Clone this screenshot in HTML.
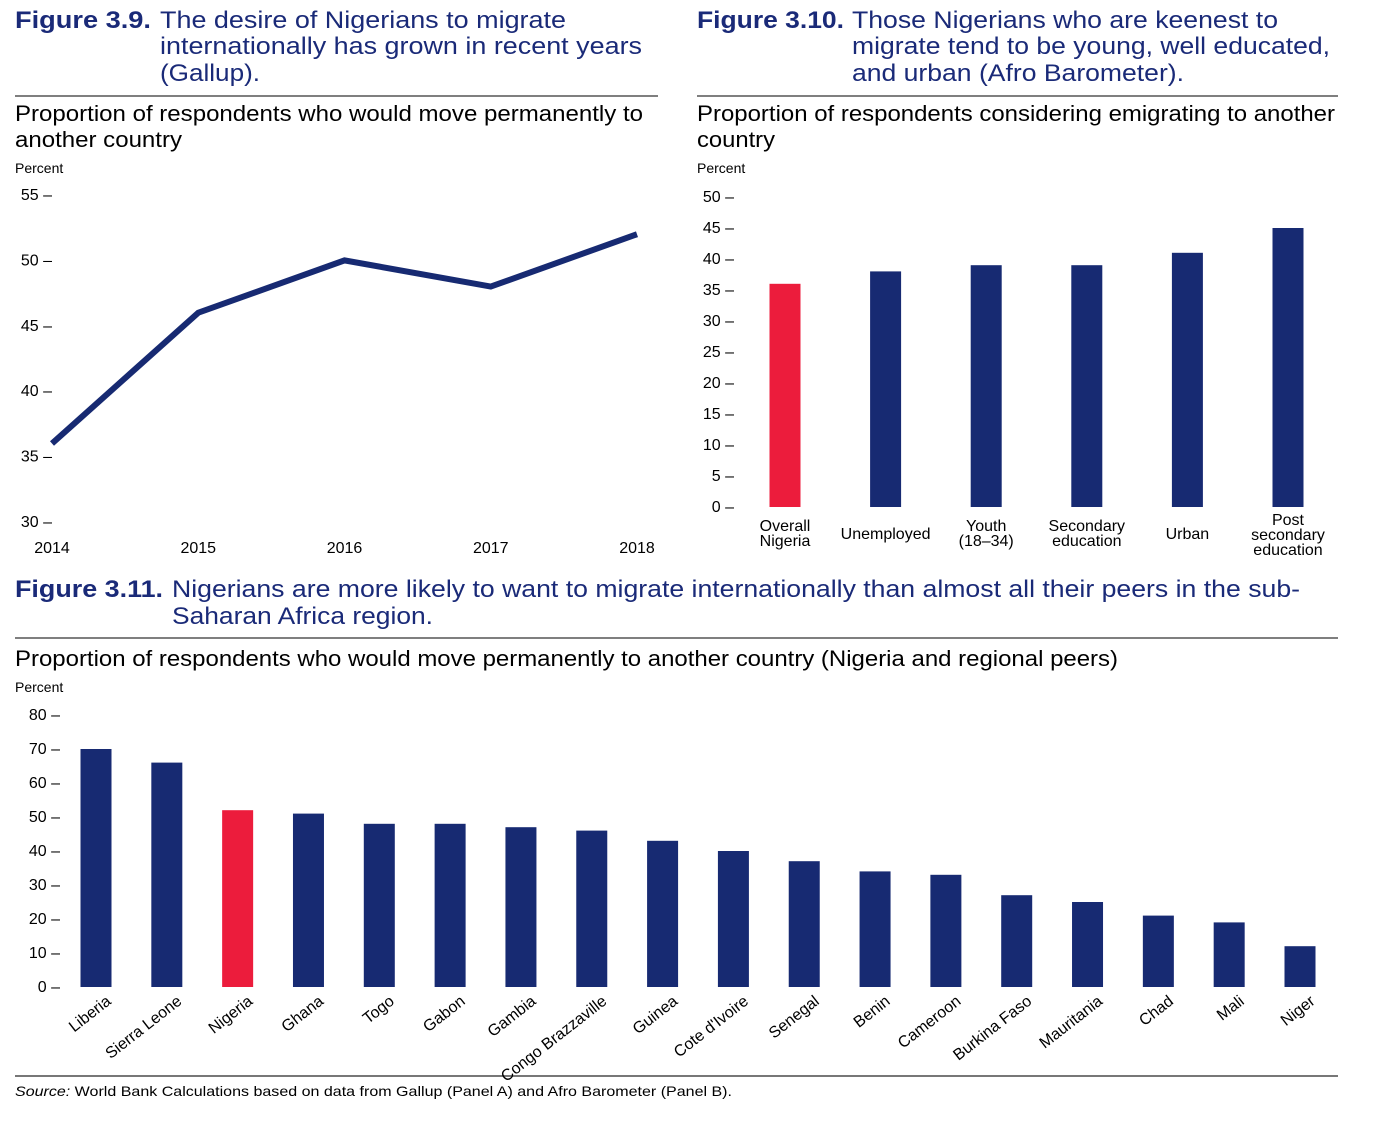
<!DOCTYPE html>
<html><head><meta charset="utf-8"><style>
html,body{margin:0;padding:0;background:#fff;}
svg{display:block;font-family:"Liberation Sans",Arial,sans-serif;}
.h{font-size:24px;fill:#1a2a78;}
.hb{font-weight:bold;}
.s{font-size:22px;fill:#000;}
.p{font-size:14px;fill:#000;}
.t{font-size:16px;fill:#000;}
</style></head><body>
<svg id="root" width="1380" height="1134" viewBox="0 0 1380 1134">
<g>
<text class="h hb" x="15" y="28" textLength="136" lengthAdjust="spacingAndGlyphs">Figure 3.9.</text>
<text class="h" x="160" y="28" textLength="406" lengthAdjust="spacingAndGlyphs">The desire of Nigerians to migrate</text>
<text class="h" x="160" y="54" textLength="482" lengthAdjust="spacingAndGlyphs">internationally has grown in recent years</text>
<text class="h" x="160" y="81" textLength="100" lengthAdjust="spacingAndGlyphs">(Gallup).</text>
</g>
<line x1="15" y1="96" x2="658" y2="96" stroke="#333" stroke-width="1.2"/>
<g>
<text class="s" x="15" y="121" textLength="628" lengthAdjust="spacingAndGlyphs">Proportion of respondents who would move permanently to</text>
<text class="s" x="15" y="147" textLength="167" lengthAdjust="spacingAndGlyphs">another country</text>
</g>
<text class="p" x="15" y="173">Percent</text>

<g>
<text class="h hb" x="697" y="28" textLength="147" lengthAdjust="spacingAndGlyphs">Figure 3.10.</text>
<text class="h" x="852" y="28" textLength="426" lengthAdjust="spacingAndGlyphs">Those Nigerians who are keenest to</text>
<text class="h" x="852" y="54" textLength="478" lengthAdjust="spacingAndGlyphs">migrate tend to be young, well educated,</text>
<text class="h" x="852" y="81" textLength="332" lengthAdjust="spacingAndGlyphs">and urban (Afro Barometer).</text>
</g>
<line x1="697" y1="96" x2="1338" y2="96" stroke="#333" stroke-width="1.2"/>
<g>
<text class="s" x="697" y="121" textLength="638" lengthAdjust="spacingAndGlyphs">Proportion of respondents considering emigrating to another</text>
<text class="s" x="697" y="147" textLength="78" lengthAdjust="spacingAndGlyphs">country</text>
</g>
<text class="p" x="697" y="173">Percent</text>

<g>
<text class="h hb" x="15" y="597" textLength="148" lengthAdjust="spacingAndGlyphs">Figure 3.11.</text>
<text class="h" x="172" y="597" textLength="1128" lengthAdjust="spacingAndGlyphs">Nigerians are more likely to want to migrate internationally than almost all their peers in the sub-</text>
<text class="h" x="172" y="624" textLength="261" lengthAdjust="spacingAndGlyphs">Saharan Africa region.</text>
</g>
<line x1="15" y1="638" x2="1338" y2="638" stroke="#333" stroke-width="1.2"/>
<text class="s" x="15" y="666" textLength="1103" lengthAdjust="spacingAndGlyphs">Proportion of respondents who would move permanently to another country (Nigeria and regional peers)</text>
<text class="p" x="15" y="692">Percent</text>

<line x1="15" y1="1076" x2="1338" y2="1076" stroke="#777" stroke-width="2"/>
<text x="15" y="1096" style="font-size:14px" textLength="717" lengthAdjust="spacingAndGlyphs"><tspan font-style="italic">Source:</tspan> World Bank Calculations based on data from Gallup (Panel A) and Afro Barometer (Panel B).</text>

<g id="c1"></g><g id="c2"></g><g id="c3"></g>
</svg>
<script>
const NS="http://www.w3.org/2000/svg";
const NAVY="#172a72", RED="#ec1c3c";
// Chart 1 data
const years=["2014","2015","2016","2017","2018"];
const pctMove=[36,46,50,48,52];
const c1Ticks=[30,35,40,45,50,55];
// Chart 2 data
const groups=[["Overall","Nigeria"],["Unemployed"],["Youth","(18–34)"],["Secondary","education"],["Urban"],["Post","secondary","education"]];
const pctEmig=[36,38,39,39,41,45];
const c2Ticks=[0,5,10,15,20,25,30,35,40,45,50];
// Chart 3 data
const countries=["Liberia","Sierra Leone","Nigeria","Ghana","Togo","Gabon","Gambia","Congo Brazzaville","Guinea","Cote d'Ivoire","Senegal","Benin","Cameroon","Burkina Faso","Mauritania","Chad","Mali","Niger"];
const pctPeers=[70,66,52,51,48,48,47,46,43,40,37,34,33,27,25,21,19,12];
const c3Ticks=[0,10,20,30,40,50,60,70,80];

function mk(tag,attrs,parent,txt){const e=document.createElementNS(NS,tag);for(const k in attrs)e.setAttribute(k,attrs[k]);if(txt!=null)e.textContent=txt;parent.appendChild(e);return e;}

// Chart 1
(function(){
const g=document.getElementById('c1');
const y=v=>522-(v-30)*(522-195)/25;
const x=i=>52+i*(637-52)/(years.length-1);
c1Ticks.forEach(v=>{const t=mk('text',{x:52,y:y(v)+5,'text-anchor':'end',class:'t'},g,v+" –");

});
years.forEach((yr,i)=>{const t=mk('text',{x:x(i),y:553,'text-anchor':'middle',class:'t'},g,yr);

});
const pts=pctMove.map((v,i)=>x(i)+","+y(v)).join(" ");
const l=mk('polyline',{points:pts,fill:'none',stroke:NAVY,'stroke-width':6,'stroke-linejoin':'miter','stroke-linecap':'butt'},g);


})();

// Chart 2
(function(){
const g=document.getElementById('c2');
const y=v=>507-v*(507-197)/50;
const x=i=>785+i*100.6;
c2Ticks.forEach(v=>{const t=mk('text',{x:734,y:y(v)+5,'text-anchor':'end',class:'t'},g,v+" –");

});
pctEmig.forEach((v,i)=>{const r=mk('rect',{x:x(i)-15.5,y:y(v),width:31,height:y(0)-y(v),fill:i===0?RED:NAVY},g);


const lines=groups[i];const n=lines.length;
const base=n===1?539:(n===2?531:525);
lines.forEach((s,j)=>{const t=mk('text',{x:x(i),y:base+j*15,'text-anchor':'middle',class:'t'},g,s);

});
});
})();

// Chart 3
(function(){
const g=document.getElementById('c3');
const y=v=>987-v*(987-715)/80;
const x=i=>96+i*(1300-96)/(countries.length-1);
c3Ticks.forEach(v=>{const t=mk('text',{x:60,y:y(v)+5,'text-anchor':'end',class:'t'},g,v+" –");

});
pctPeers.forEach((v,i)=>{const r=mk('rect',{x:x(i)-15.5,y:y(v),width:31,height:y(0)-y(v),fill:countries[i]==="Nigeria"?RED:NAVY},g);


const t=mk('text',{x:0,y:0,'text-anchor':'end',class:'t',transform:`translate(${x(i)+16},${1003}) rotate(-38)`},g,countries[i]);


});
})();
</script>
</body></html>
